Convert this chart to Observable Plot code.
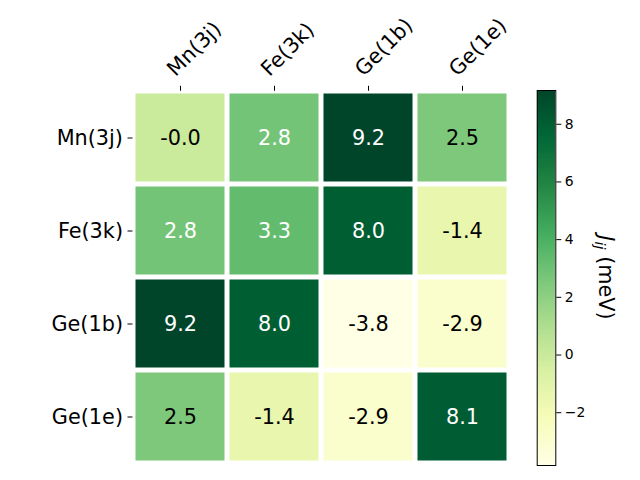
<!DOCTYPE html>
<html><head><meta charset="utf-8">
<script src="https://cdn.jsdelivr.net/npm/d3@7"></script>
<script src="https://cdn.jsdelivr.net/npm/@observablehq/plot@0.6"></script>
<style>
body{margin:0;background:#fff;}
#chart{position:relative;width:640px;height:480px;font-family:"DejaVu Sans",sans-serif;}
#chart svg{position:absolute;left:0;top:0;}
</style></head><body><div id="chart"></div>
<script>
const sites = ["Mn(3j)", "Fe(3k)", "Ge(1b)", "Ge(1e)"];
const rowMn   = [-0.04, 2.8, 9.17, 2.5];
const rowFe   = [2.8, 3.3, 8.0, -1.4];
const rowGe1b = [9.17, 8.0, -3.83, -2.9];
const rowGe1e = [2.5, -1.4, -2.9, 8.1];
const cbarTicks = [-2, 0, 2, 4, 6, 8];
const ylgnColors = ["#ffffe5","#f7fcb9","#d9f0a3","#addd8e","#78c679","#41ab5d","#238443","#006837","#004529"];

const rows = [rowMn, rowFe, rowGe1b, rowGe1e];
const cells = rows.flatMap((r, i) => r.map((v, j) => ({row: sites[i], col: sites[j], v})));
const vmin = d3.min(cells, d => d.v), vmax = d3.max(cells, d => d.v);
const norm = v => (v - vmin) / (vmax - vmin);
const color = {type: "linear", domain: ylgnColors.map((_, k) => vmin + k * (vmax - vmin) / 8), range: ylgnColors, interpolate: "rgb"};

const heat = Plot.plot({
  width: 640, height: 480,
  marginLeft: 132.5, marginRight: 130.8, marginTop: 89.8, marginBottom: 15.2,
  style: {fontFamily: "DejaVu Sans", fontSize: "20.8px", color: "black", background: "transparent"},
  x: {domain: sites, padding: 0, axis: null},
  y: {domain: sites, padding: 0, axis: null},
  color,
  marks: [
    Plot.cell(cells, {x: "col", y: "row", fill: "v", inset: 2.5}),
    Plot.text(cells.filter(d => norm(d.v) > 0.5), {x: "col", y: "row", text: d => d.v.toFixed(1), fill: "white", fontSize: 20.8}),
    Plot.text(cells.filter(d => norm(d.v) <= 0.5), {x: "col", y: "row", text: d => d.v.toFixed(1), fill: "black", fontSize: 20.8}),
    Plot.axisY({anchor: "left", tickSize: 5, tickPadding: 5, fontSize: 20.8, label: null}),
    Plot.axisX({anchor: "top", tickSize: 5, tickFormat: () => "", label: null}),
    Plot.text(sites, {x: d => d, text: d => d, frameAnchor: "top", rotate: -45, textAnchor: "start", lineAnchor: "bottom", dx: -5, dy: -13, fontSize: 20.8, fill: "black"})
  ]
});

const steps = d3.range(256).map(k => ({y1: vmin + k * (vmax - vmin) / 256, y2: vmin + (k + 1.02) * (vmax - vmin) / 256}));
const cbar = Plot.plot({
  width: 640, height: 480,
  marginLeft: 536.7, marginRight: 84.7, marginTop: 90, marginBottom: 15,
  style: {fontFamily: "DejaVu Sans", fontSize: "13.9px", color: "black", background: "transparent"},
  y: {domain: [vmin, vmax], axis: null},
  color,
  marks: [
    Plot.rect(steps, {y1: "y1", y2: Math.min.length ? "y2" : "y2", fill: d => (d.y1 + d.y2) / 2, shapeRendering: "crispEdges"}),
    Plot.frame({stroke: "black", strokeWidth: 1}),
    Plot.axisY({anchor: "right", ticks: cbarTicks, tickSize: 5, tickPadding: 4, fontSize: 13.9, label: null})
  ]
});

const lab = d3.select(cbar).append("text")
  .attr("transform", "translate(598.5,277.5) rotate(90)")
  .attr("text-anchor", "middle")
  .attr("font-family", "DejaVu Sans")
  .attr("font-size", 20.8)
  .attr("fill", "black");
lab.append("tspan").attr("font-style", "italic").text("J");
lab.append("tspan").attr("font-style", "italic").attr("font-size", 14.5).attr("dy", 4).text("ij");
lab.append("tspan").attr("dy", -4).text(" (meV)");

const chart = document.getElementById("chart");
chart.appendChild(heat);
chart.appendChild(cbar);
</script></body></html>
